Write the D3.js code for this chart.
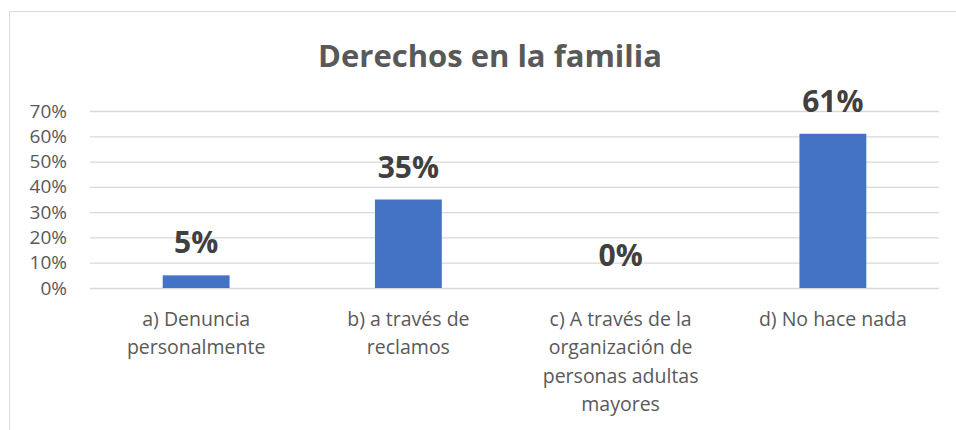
<!DOCTYPE html>
<html>
  <head>
    <meta charset="utf-8">
    <script src="https://d3js.org/d3.v7.min.js"></script>
    <title>Derechos en la familia</title>
    <style>
      body { margin: 0; background: #fff; overflow: hidden; }
      svg { display: block; }
      text { font-family: "Open Sans", sans-serif; }
    </style>
  </head>
  <body>
    <svg width="956" height="430"></svg>
    <script>
      const categories = [
        ['a) Denuncia', 'personalmente'],
        ['b) a través de', 'reclamos'],
        ['c) A través de la', 'organización de', 'personas adultas', 'mayores'],
        ['d) No hace nada']
      ];
      const values = [0.05, 0.35, 0, 0.61];
      const yTicks = [0, 0.1, 0.2, 0.3, 0.4, 0.5, 0.6, 0.7];
      const title = 'Derechos en la familia';

      const margin = { left: 90, right: 17, top: 111, bottom: 142 };
      const svg = d3.select('svg');
      const width = +svg.attr('width');
      const height = +svg.attr('height');
      const innerWidth = width - margin.left - margin.right;
      const innerHeight = height - margin.top - margin.bottom;

      // chart frame: only top and left edges are inside the picture
      svg.append('path')
          .attr('d', `M9.5,${height}V11.5H${width}`)
          .attr('fill', 'none')
          .attr('stroke', '#d9d9d9');

      // title is centred on the whole chart frame, which runs past the right edge
      svg.append('text')
          .attr('x', 490)
          .attr('y', 67)
          .attr('text-anchor', 'middle')
          .attr('font-size', 31)
          .attr('font-weight', 'bold')
          .attr('fill', '#595959')
          .text(title);

      const g = svg.append('g')
          .attr('transform', `translate(${margin.left},${margin.top})`);

      const x = d3.scaleBand()
        .domain(d3.range(values.length))
        .range([0, innerWidth]);
      const y = d3.scaleLinear()
        .domain([0, 0.7])
        .range([innerHeight, 0]);

      const yAxis = d3.axisLeft(y)
        .tickValues(yTicks)
        .tickFormat(d3.format('.0%'))
        .tickSize(-innerWidth)
        .tickPadding(23);

      const yAxisG = g.append('g').call(yAxis);
      yAxisG.select('.domain').remove();
      yAxisG.selectAll('.tick line')
          .attr('stroke', '#d9d9d9')
          .attr('stroke-width', 1.3);
      yAxisG.selectAll('.tick text')
          .attr('font-size', 19)
          .attr('font-family', '"Open Sans", sans-serif')
          .attr('fill', '#595959');

      const barWidth = x.bandwidth() * 0.315;

      g.selectAll('.bar').data(values)
        .enter().append('rect')
          .attr('class', 'bar')
          .attr('x', (d, i) => x(i) + (x.bandwidth() - barWidth) / 2)
          .attr('y', d => y(d))
          .attr('width', barWidth)
          .attr('height', d => innerHeight - y(d))
          .attr('fill', '#4472c4');

      g.selectAll('.value').data(values)
        .enter().append('text')
          .attr('class', 'value')
          .attr('x', (d, i) => x(i) + x.bandwidth() / 2)
          .attr('y', d => y(d) - 22)
          .attr('text-anchor', 'middle')
          .attr('font-size', 30)
          .attr('font-weight', 'bold')
          .attr('fill', '#404040')
          .text(d => d3.format('.0%')(d));

      const labels = g.selectAll('.cat').data(categories)
        .enter().append('text')
          .attr('class', 'cat')
          .attr('x', (d, i) => x(i) + x.bandwidth() / 2)
          .attr('y', innerHeight + 38)
          .attr('text-anchor', 'middle')
          .attr('font-size', 19.5)
          .attr('fill', '#595959');

      labels.selectAll('tspan').data(d => d)
        .enter().append('tspan')
          .attr('x', function () { return d3.select(this.parentNode).attr('x'); })
          .attr('dy', (d, i) => i === 0 ? 0 : 28.3)
          .text(d => d);
    </script>
  </body>
</html>
